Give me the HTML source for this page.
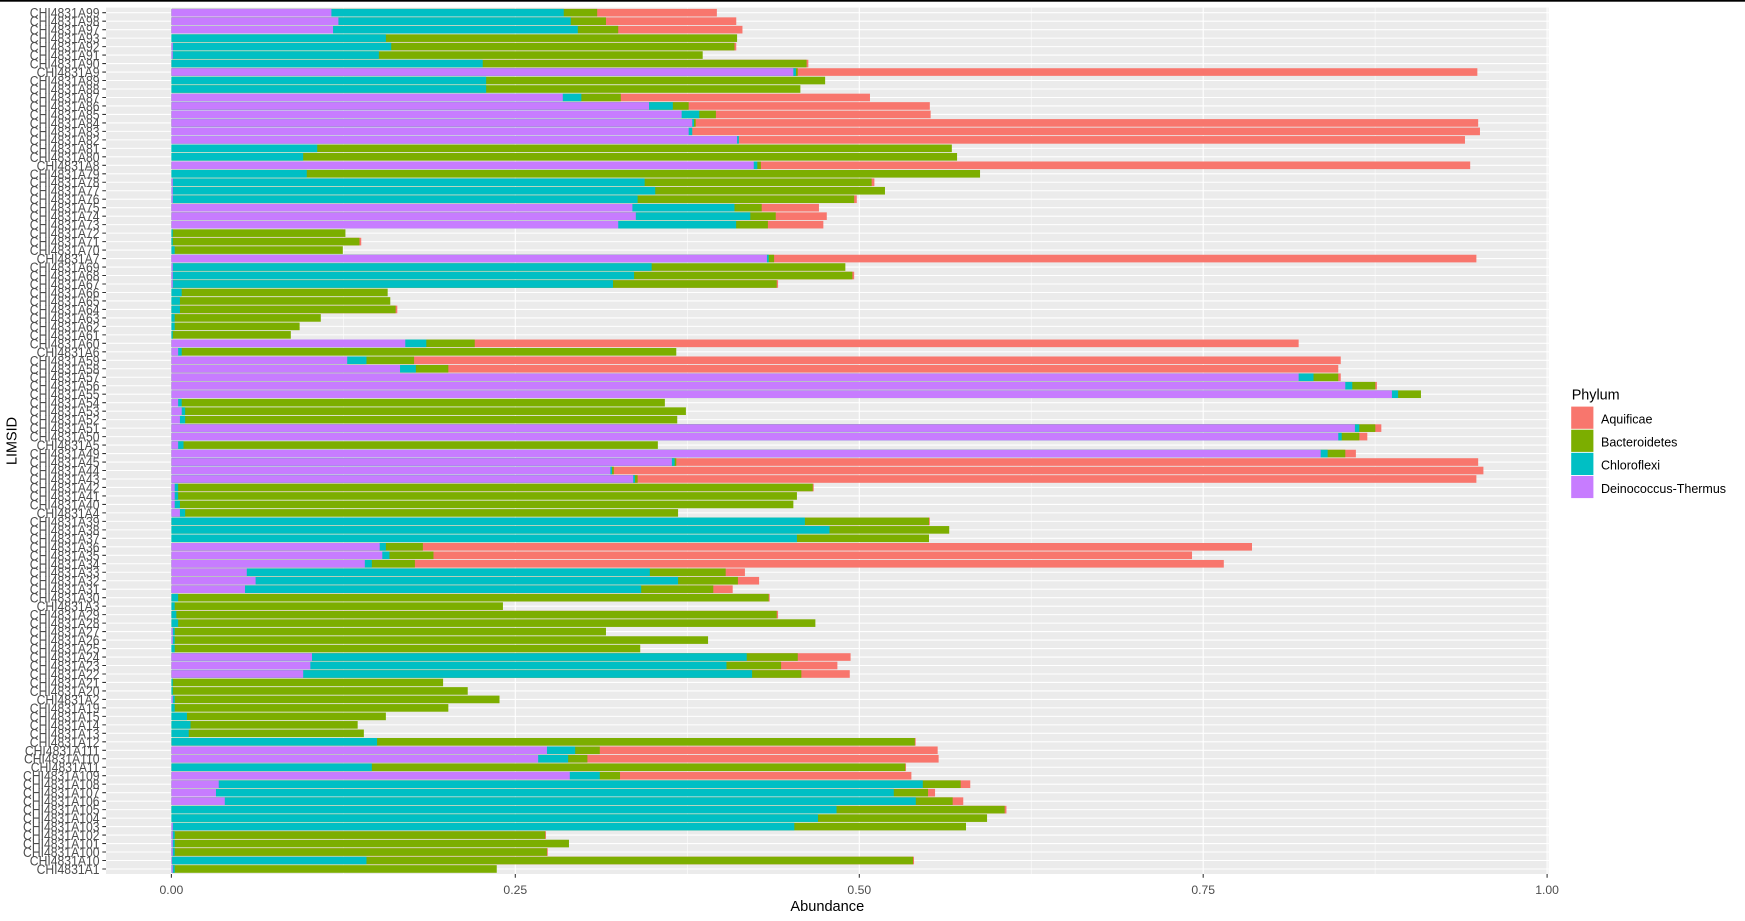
<!DOCTYPE html>
<html><head><meta charset="utf-8"><style>
body{margin:0;background:#fff}
svg{display:block}
.a{fill:#F8766D}.g{fill:#7CAE00}.c{fill:#00BFC4}.p{fill:#C77CFF}
</style></head><body>
<svg xmlns="http://www.w3.org/2000/svg" width="1745" height="921" viewBox="0 0 1745 921">
<rect width="1745" height="921" fill="#fff"/>
<rect x="0" y="0" width="1745" height="1.7" fill="#000"/>
<rect x="106" y="7.6" width="1442.5" height="866.4" fill="#EBEBEB"/>
<path d="M343.4 7.6V874M687.3 7.6V874M1031.2 7.6V874M1375.1 7.6V874" stroke="#fff" stroke-width="0.53"/>
<path d="M171.4 7.6V874M515.3 7.6V874M859.3 7.6V874M1203.2 7.6V874M1547.1 7.6V874" stroke="#fff" stroke-width="1.07"/>
<line x1="827.25" y1="12.165" x2="827.25" y2="874" stroke="#fff" stroke-width="1442.5" stroke-dasharray="1.07 7.408"/>
<svg x="171.4" y="8.461" width="1375.7" height="864.76" viewBox="0 0 1 102" preserveAspectRatio="none" overflow="visible">
<rect class="a" y="0.05" height=".9" width=".3965"/><rect class="g" y="0.05" height=".9" width=".3095"/><rect class="c" y="0.05" height=".9" width=".2852"/><rect class="p" y="0.05" height=".9" width=".1163"/>
<rect class="a" y="1.05" height=".9" width=".4106"/><rect class="g" y="1.05" height=".9" width=".3159"/><rect class="c" y="1.05" height=".9" width=".2903"/><rect class="p" y="1.05" height=".9" width=".1214"/>
<rect class="a" y="2.05" height=".9" width=".4151"/><rect class="g" y="2.05" height=".9" width=".3248"/><rect class="c" y="2.05" height=".9" width=".2954"/><rect class="p" y="2.05" height=".9" width=".1175"/>
<rect class="g" y="3.05" height=".9" width=".4112"/><rect class="c" y="3.05" height=".9" width=".1559"/>
<rect class="a" y="4.05" height=".9" width=".4106"/><rect class="g" y="4.05" height=".9" width=".4093"/><rect class="c" y="4.05" height=".9" width=".1598"/><rect class="p" y="4.05" height=".9" width=".001"/>
<rect class="g" y="5.05" height=".9" width=".3862"/><rect class="c" y="5.05" height=".9" width=".1508"/><rect class="p" y="5.05" height=".9" width=".001"/>
<rect class="a" y="6.05" height=".9" width=".4630"/><rect class="g" y="6.05" height=".9" width=".4617"/><rect class="c" y="6.05" height=".9" width=".2263"/>
<rect class="a" y="7.05" height=".9" width=".9493"/><rect class="g" y="7.05" height=".9" width=".4553"/><rect class="c" y="7.05" height=".9" width=".454"/><rect class="p" y="7.05" height=".9" width=".4521"/>
<rect class="g" y="8.05" height=".9" width=".4752"/><rect class="c" y="8.05" height=".9" width=".2288"/>
<rect class="g" y="9.05" height=".9" width=".4572"/><rect class="c" y="9.05" height=".9" width=".2288"/>
<rect class="a" y="10.05" height=".9" width=".5078"/><rect class="g" y="10.05" height=".9" width=".3267"/><rect class="c" y="10.05" height=".9" width=".298"/><rect class="p" y="10.05" height=".9" width=".2845"/>
<rect class="a" y="11.05" height=".9" width=".5513"/><rect class="g" y="11.05" height=".9" width=".376"/><rect class="c" y="11.05" height=".9" width=".3645"/><rect class="p" y="11.05" height=".9" width=".3472"/>
<rect class="a" y="12.05" height=".9" width=".5519"/><rect class="g" y="12.05" height=".9" width=".3958"/><rect class="c" y="12.05" height=".9" width=".3837"/><rect class="p" y="12.05" height=".9" width=".3709"/>
<rect class="a" y="13.05" height=".9" width=".9499"/><rect class="g" y="13.05" height=".9" width=".3811"/><rect class="c" y="13.05" height=".9" width=".3799"/><rect class="p" y="13.05" height=".9" width=".3786"/>
<rect class="a" y="14.05" height=".9" width=".9512"/><rect class="c" y="14.05" height=".9" width=".3786"/><rect class="p" y="14.05" height=".9" width=".3760"/>
<rect class="a" y="15.05" height=".9" width=".9403"/><rect class="c" y="15.05" height=".9" width=".4125"/><rect class="p" y="15.05" height=".9" width=".4112"/>
<rect class="g" y="16.05" height=".9" width=".5673"/><rect class="c" y="16.05" height=".9" width=".106"/>
<rect class="g" y="17.05" height=".9" width=".5711"/><rect class="c" y="17.05" height=".9" width=".0958"/>
<rect class="a" y="18.05" height=".9" width=".9441"/><rect class="g" y="18.05" height=".9" width=".4285"/><rect class="c" y="18.05" height=".9" width=".4259"/><rect class="p" y="18.05" height=".9" width=".4233"/>
<rect class="g" y="19.05" height=".9" width=".5878"/><rect class="c" y="19.05" height=".9" width=".0984"/>
<rect class="a" y="20.05" height=".9" width=".511"/><rect class="g" y="20.05" height=".9" width=".509"/><rect class="c" y="20.05" height=".9" width=".344"/><rect class="p" y="20.05" height=".9" width=".001"/>
<rect class="g" y="21.05" height=".9" width=".5187"/><rect class="c" y="21.05" height=".9" width=".3517"/><rect class="p" y="21.05" height=".9" width=".001"/>
<rect class="a" y="22.05" height=".9" width=".4982"/><rect class="g" y="22.05" height=".9" width=".4963"/><rect class="c" y="22.05" height=".9" width=".3389"/><rect class="p" y="22.05" height=".9" width=".001"/>
<rect class="a" y="23.05" height=".9" width=".4707"/><rect class="g" y="23.05" height=".9" width=".4291"/><rect class="c" y="23.05" height=".9" width=".4093"/><rect class="p" y="23.05" height=".9" width=".3351"/>
<rect class="a" y="24.05" height=".9" width=".4764"/><rect class="g" y="24.05" height=".9" width=".4393"/><rect class="c" y="24.05" height=".9" width=".4208"/><rect class="p" y="24.05" height=".9" width=".3376"/>
<rect class="a" y="25.05" height=".9" width=".4739"/><rect class="g" y="25.05" height=".9" width=".4336"/><rect class="c" y="25.05" height=".9" width=".4105"/><rect class="p" y="25.05" height=".9" width=".3248"/>
<rect class="g" y="26.05" height=".9" width=".1265"/><rect class="c" y="26.05" height=".9" width=".001"/>
<rect class="a" y="27.05" height=".9" width=".138"/><rect class="g" y="27.05" height=".9" width=".1367"/><rect class="c" y="27.05" height=".9" width=".001"/>
<rect class="g" y="28.05" height=".9" width=".1246"/><rect class="c" y="28.05" height=".9" width=".0024"/>
<rect class="a" y="29.05" height=".9" width=".9486"/><rect class="g" y="29.05" height=".9" width=".4381"/><rect class="c" y="29.05" height=".9" width=".4342"/><rect class="p" y="29.05" height=".9" width=".4329"/>
<rect class="g" y="30.05" height=".9" width=".4899"/><rect class="c" y="30.05" height=".9" width=".3491"/><rect class="p" y="30.05" height=".9" width=".001"/>
<rect class="a" y="31.05" height=".9" width=".4963"/><rect class="g" y="31.05" height=".9" width=".495"/><rect class="c" y="31.05" height=".9" width=".3363"/><rect class="p" y="31.05" height=".9" width=".001"/>
<rect class="a" y="32.05" height=".9" width=".441"/><rect class="g" y="32.05" height=".9" width=".44"/><rect class="c" y="32.05" height=".9" width=".321"/><rect class="p" y="32.05" height=".9" width=".001"/>
<rect class="g" y="33.05" height=".9" width=".1572"/><rect class="c" y="33.05" height=".9" width=".0075"/>
<rect class="g" y="34.05" height=".9" width=".1591"/><rect class="c" y="34.05" height=".9" width=".0062"/>
<rect class="a" y="35.05" height=".9" width=".1642"/><rect class="g" y="35.05" height=".9" width=".163"/><rect class="c" y="35.05" height=".9" width=".0062"/>
<rect class="g" y="36.05" height=".9" width=".1086"/><rect class="c" y="36.05" height=".9" width=".0024"/>
<rect class="g" y="37.05" height=".9" width=".0932"/><rect class="c" y="37.05" height=".9" width=".0024"/>
<rect class="g" y="38.05" height=".9" width=".0868"/><rect class="c" y="38.05" height=".9" width=".001"/>
<rect class="a" y="39.05" height=".9" width=".8194"/><rect class="g" y="39.05" height=".9" width=".2205"/><rect class="c" y="39.05" height=".9" width=".1853"/><rect class="p" y="39.05" height=".9" width=".17"/>
<rect class="g" y="40.05" height=".9" width=".367"/><rect class="c" y="40.05" height=".9" width=".0075"/><rect class="p" y="40.05" height=".9" width=".0049"/>
<rect class="a" y="41.05" height=".9" width=".85"/><rect class="g" y="41.05" height=".9" width=".1764"/><rect class="c" y="41.05" height=".9" width=".1418"/><rect class="p" y="41.05" height=".9" width=".1278"/>
<rect class="a" y="42.05" height=".9" width=".8482"/><rect class="g" y="42.05" height=".9" width=".2013"/><rect class="c" y="42.05" height=".9" width=".1777"/><rect class="p" y="42.05" height=".9" width=".1662"/>
<rect class="a" y="43.05" height=".9" width=".85"/><rect class="g" y="43.05" height=".9" width=".8482"/><rect class="c" y="43.05" height=".9" width=".8302"/><rect class="p" y="43.05" height=".9" width=".8194"/>
<rect class="a" y="44.05" height=".9" width=".8763"/><rect class="g" y="44.05" height=".9" width=".8751"/><rect class="c" y="44.05" height=".9" width=".8584"/><rect class="p" y="44.05" height=".9" width=".8533"/>
<rect class="g" y="45.05" height=".9" width=".9083"/><rect class="c" y="45.05" height=".9" width=".8917"/><rect class="p" y="45.05" height=".9" width=".8872"/>
<rect class="g" y="46.05" height=".9" width=".3587"/><rect class="c" y="46.05" height=".9" width=".0075"/><rect class="p" y="46.05" height=".9" width=".0049"/>
<rect class="g" y="47.05" height=".9" width=".374"/><rect class="c" y="47.05" height=".9" width=".01"/><rect class="p" y="47.05" height=".9" width=".0075"/>
<rect class="g" y="48.05" height=".9" width=".3677"/><rect class="c" y="48.05" height=".9" width=".01"/><rect class="p" y="48.05" height=".9" width=".0062"/>
<rect class="a" y="49.05" height=".9" width=".8795"/><rect class="g" y="49.05" height=".9" width=".8751"/><rect class="c" y="49.05" height=".9" width=".8635"/><rect class="p" y="49.05" height=".9" width=".8603"/>
<rect class="a" y="50.05" height=".9" width=".8693"/><rect class="g" y="50.05" height=".9" width=".8635"/><rect class="c" y="50.05" height=".9" width=".8507"/><rect class="p" y="50.05" height=".9" width=".8482"/>
<rect class="g" y="51.05" height=".9" width=".3536"/><rect class="c" y="51.05" height=".9" width=".0088"/><rect class="p" y="51.05" height=".9" width=".0049"/>
<rect class="a" y="52.05" height=".9" width=".861"/><rect class="g" y="52.05" height=".9" width=".8533"/><rect class="c" y="52.05" height=".9" width=".8405"/><rect class="p" y="52.05" height=".9" width=".8354"/>
<rect class="a" y="53.05" height=".9" width=".9499"/><rect class="g" y="53.05" height=".9" width=".367"/><rect class="c" y="53.05" height=".9" width=".3658"/><rect class="p" y="53.05" height=".9" width=".3638"/>
<rect class="a" y="54.05" height=".9" width=".9537"/><rect class="g" y="54.05" height=".9" width=".3216"/><rect class="c" y="54.05" height=".9" width=".3203"/><rect class="p" y="54.05" height=".9" width=".3191"/>
<rect class="a" y="55.05" height=".9" width=".9486"/><rect class="g" y="55.05" height=".9" width=".3389"/><rect class="c" y="55.05" height=".9" width=".337"/><rect class="p" y="55.05" height=".9" width=".3357"/>
<rect class="a" y="56.05" height=".9" width=".4669"/><rect class="g" y="56.05" height=".9" width=".4662"/><rect class="c" y="56.05" height=".9" width=".0049"/><rect class="p" y="56.05" height=".9" width=".0024"/>
<rect class="g" y="57.05" height=".9" width=".4547"/><rect class="c" y="57.05" height=".9" width=".0049"/><rect class="p" y="57.05" height=".9" width=".0024"/>
<rect class="g" y="58.05" height=".9" width=".4521"/><rect class="c" y="58.05" height=".9" width=".0062"/><rect class="p" y="58.05" height=".9" width=".0024"/>
<rect class="g" y="59.05" height=".9" width=".3683"/><rect class="c" y="59.05" height=".9" width=".01"/><rect class="p" y="59.05" height=".9" width=".0062"/>
<rect class="a" y="60.05" height=".9" width=".5513"/><rect class="g" y="60.05" height=".9" width=".5507"/><rect class="c" y="60.05" height=".9" width=".4605"/>
<rect class="g" y="61.05" height=".9" width=".5654"/><rect class="c" y="61.05" height=".9" width=".4784"/>
<rect class="g" y="62.05" height=".9" width=".5507"/><rect class="c" y="62.05" height=".9" width=".4547"/>
<rect class="a" y="63.05" height=".9" width=".7855"/><rect class="g" y="63.05" height=".9" width=".1828"/><rect class="c" y="63.05" height=".9" width=".1559"/><rect class="p" y="63.05" height=".9" width=".1514"/>
<rect class="a" y="64.05" height=".9" width=".7419"/><rect class="g" y="64.05" height=".9" width=".1905"/><rect class="c" y="64.05" height=".9" width=".1585"/><rect class="p" y="64.05" height=".9" width=".1533"/>
<rect class="a" y="65.05" height=".9" width=".765"/><rect class="g" y="65.05" height=".9" width=".177"/><rect class="c" y="65.05" height=".9" width=".1457"/><rect class="p" y="65.05" height=".9" width=".1406"/>
<rect class="a" y="66.05" height=".9" width=".4169"/><rect class="g" y="66.05" height=".9" width=".4029"/><rect class="c" y="66.05" height=".9" width=".3478"/><rect class="p" y="66.05" height=".9" width=".0548"/>
<rect class="a" y="67.05" height=".9" width=".4272"/><rect class="g" y="67.05" height=".9" width=".4118"/><rect class="c" y="67.05" height=".9" width=".3683"/><rect class="p" y="67.05" height=".9" width=".0612"/>
<rect class="a" y="68.05" height=".9" width=".408"/><rect class="g" y="68.05" height=".9" width=".3939"/><rect class="c" y="68.05" height=".9" width=".3415"/><rect class="p" y="68.05" height=".9" width=".0535"/>
<rect class="a" y="69.05" height=".9" width=".4349"/><rect class="g" y="69.05" height=".9" width=".4342"/><rect class="c" y="69.05" height=".9" width=".0049"/>
<rect class="g" y="70.05" height=".9" width=".241"/><rect class="c" y="70.05" height=".9" width=".0024"/>
<rect class="a" y="71.05" height=".9" width=".441"/><rect class="g" y="71.05" height=".9" width=".44"/><rect class="c" y="71.05" height=".9" width=".0036"/>
<rect class="g" y="72.05" height=".9" width=".4681"/><rect class="c" y="72.05" height=".9" width=".0049"/>
<rect class="g" y="73.05" height=".9" width=".3159"/><rect class="c" y="73.05" height=".9" width=".0024"/><rect class="p" y="73.05" height=".9" width=".001"/>
<rect class="g" y="74.05" height=".9" width=".3901"/><rect class="c" y="74.05" height=".9" width=".0024"/><rect class="p" y="74.05" height=".9" width=".001"/>
<rect class="g" y="75.05" height=".9" width=".3408"/><rect class="c" y="75.05" height=".9" width=".0024"/>
<rect class="a" y="76.05" height=".9" width=".4937"/><rect class="g" y="76.05" height=".9" width=".4553"/><rect class="c" y="76.05" height=".9" width=".4182"/><rect class="p" y="76.05" height=".9" width=".1022"/>
<rect class="a" y="77.05" height=".9" width=".4841"/><rect class="g" y="77.05" height=".9" width=".4432"/><rect class="c" y="77.05" height=".9" width=".4035"/><rect class="p" y="77.05" height=".9" width=".101"/>
<rect class="a" y="78.05" height=".9" width=".4931"/><rect class="g" y="78.05" height=".9" width=".4579"/><rect class="c" y="78.05" height=".9" width=".4221"/><rect class="p" y="78.05" height=".9" width=".0958"/>
<rect class="g" y="79.05" height=".9" width=".1975"/><rect class="c" y="79.05" height=".9" width=".001"/>
<rect class="g" y="80.05" height=".9" width=".2154"/><rect class="c" y="80.05" height=".9" width=".001"/>
<rect class="g" y="81.05" height=".9" width=".2385"/><rect class="c" y="81.05" height=".9" width=".0024"/><rect class="p" y="81.05" height=".9" width=".001"/>
<rect class="g" y="82.05" height=".9" width=".2013"/><rect class="c" y="82.05" height=".9" width=".0024"/>
<rect class="g" y="83.05" height=".9" width=".1559"/><rect class="c" y="83.05" height=".9" width=".0113"/>
<rect class="g" y="84.05" height=".9" width=".1354"/><rect class="c" y="84.05" height=".9" width=".0139"/>
<rect class="g" y="85.05" height=".9" width=".1399"/><rect class="c" y="85.05" height=".9" width=".0126"/>
<rect class="a" y="86.05" height=".9" width=".541"/><rect class="g" y="86.05" height=".9" width=".5404"/><rect class="c" y="86.05" height=".9" width=".1495"/>
<rect class="a" y="87.05" height=".9" width=".557"/><rect class="g" y="87.05" height=".9" width=".3114"/><rect class="c" y="87.05" height=".9" width=".2935"/><rect class="p" y="87.05" height=".9" width=".273"/>
<rect class="a" y="88.05" height=".9" width=".5577"/><rect class="g" y="88.05" height=".9" width=".3024"/><rect class="c" y="88.05" height=".9" width=".2884"/><rect class="p" y="88.05" height=".9" width=".2666"/>
<rect class="a" y="89.05" height=".9" width=".534"/><rect class="g" y="89.05" height=".9" width=".5334"/><rect class="c" y="89.05" height=".9" width=".1457"/>
<rect class="a" y="90.05" height=".9" width=".5379"/><rect class="g" y="90.05" height=".9" width=".3261"/><rect class="c" y="90.05" height=".9" width=".3114"/><rect class="p" y="90.05" height=".9" width=".2896"/>
<rect class="a" y="91.05" height=".9" width=".5807"/><rect class="g" y="91.05" height=".9" width=".5737"/><rect class="c" y="91.05" height=".9" width=".5462"/><rect class="p" y="91.05" height=".9" width=".0344"/>
<rect class="a" y="92.05" height=".9" width=".5551"/><rect class="g" y="92.05" height=".9" width=".55"/><rect class="c" y="92.05" height=".9" width=".5251"/><rect class="p" y="92.05" height=".9" width=".0324"/>
<rect class="a" y="93.05" height=".9" width=".5756"/><rect class="g" y="93.05" height=".9" width=".5679"/><rect class="c" y="93.05" height=".9" width=".5411"/><rect class="p" y="93.05" height=".9" width=".0388"/>
<rect class="a" y="94.05" height=".9" width=".607"/><rect class="g" y="94.05" height=".9" width=".6057"/><rect class="c" y="94.05" height=".9" width=".4835"/>
<rect class="g" y="95.05" height=".9" width=".5929"/><rect class="c" y="95.05" height=".9" width=".47"/>
<rect class="g" y="96.05" height=".9" width=".5776"/><rect class="c" y="96.05" height=".9" width=".4528"/><rect class="p" y="96.05" height=".9" width=".001"/>
<rect class="a" y="97.05" height=".9" width=".2723"/><rect class="g" y="97.05" height=".9" width=".2717"/><rect class="c" y="97.05" height=".9" width=".0024"/><rect class="p" y="97.05" height=".9" width=".001"/>
<rect class="g" y="98.05" height=".9" width=".289"/><rect class="c" y="98.05" height=".9" width=".0024"/><rect class="p" y="98.05" height=".9" width=".001"/>
<rect class="a" y="99.05" height=".9" width=".2736"/><rect class="g" y="99.05" height=".9" width=".273"/><rect class="c" y="99.05" height=".9" width=".0024"/><rect class="p" y="99.05" height=".9" width=".001"/>
<rect class="a" y="100.05" height=".9" width=".5398"/><rect class="g" y="100.05" height=".9" width=".5391"/><rect class="c" y="100.05" height=".9" width=".1418"/><rect class="p" y="100.05" height=".9" width=".0005"/>
<rect class="g" y="101.05" height=".9" width=".2365"/><rect class="c" y="101.05" height=".9" width=".0024"/><rect class="p" y="101.05" height=".9" width=".001"/>
</svg>
<line x1="104.15" y1="12.165" x2="104.15" y2="874" stroke="#333" stroke-width="3.7" stroke-dasharray="1.07 7.408"/>
<path d="M171.4 874V877.7M515.3 874V877.7M859.3 874V877.7M1203.2 874V877.7M1547.1 874V877.7" stroke="#333" stroke-width="1.07"/>
<g font-family="Liberation Sans, Arial, sans-serif" font-size="14" fill="#4D4D4D" text-anchor="end" transform="translate(99.5,0.7) scale(0.87,1)">
<text y="17.00">CHI4831A99</text>
<text y="25.48">CHI4831A98</text>
<text y="33.96">CHI4831A97</text>
<text y="42.43">CHI4831A93</text>
<text y="50.91">CHI4831A92</text>
<text y="59.39">CHI4831A91</text>
<text y="67.87">CHI4831A90</text>
<text y="76.35">CHI4831A9</text>
<text y="84.82">CHI4831A89</text>
<text y="93.30">CHI4831A88</text>
<text y="101.78">CHI4831A87</text>
<text y="110.26">CHI4831A86</text>
<text y="118.74">CHI4831A85</text>
<text y="127.21">CHI4831A84</text>
<text y="135.69">CHI4831A83</text>
<text y="144.17">CHI4831A82</text>
<text y="152.65">CHI4831A81</text>
<text y="161.13">CHI4831A80</text>
<text y="169.60">CHI4831A8</text>
<text y="178.08">CHI4831A79</text>
<text y="186.56">CHI4831A78</text>
<text y="195.04">CHI4831A77</text>
<text y="203.52">CHI4831A76</text>
<text y="211.99">CHI4831A75</text>
<text y="220.47">CHI4831A74</text>
<text y="228.95">CHI4831A73</text>
<text y="237.43">CHI4831A72</text>
<text y="245.91">CHI4831A71</text>
<text y="254.38">CHI4831A70</text>
<text y="262.86">CHI4831A7</text>
<text y="271.34">CHI4831A69</text>
<text y="279.82">CHI4831A68</text>
<text y="288.30">CHI4831A67</text>
<text y="296.77">CHI4831A66</text>
<text y="305.25">CHI4831A65</text>
<text y="313.73">CHI4831A64</text>
<text y="322.21">CHI4831A63</text>
<text y="330.69">CHI4831A62</text>
<text y="339.16">CHI4831A61</text>
<text y="347.64">CHI4831A60</text>
<text y="356.12">CHI4831A6</text>
<text y="364.60">CHI4831A59</text>
<text y="373.08">CHI4831A58</text>
<text y="381.55">CHI4831A57</text>
<text y="390.03">CHI4831A56</text>
<text y="398.51">CHI4831A55</text>
<text y="406.99">CHI4831A54</text>
<text y="415.47">CHI4831A53</text>
<text y="423.94">CHI4831A52</text>
<text y="432.42">CHI4831A51</text>
<text y="440.90">CHI4831A50</text>
<text y="449.38">CHI4831A5</text>
<text y="457.86">CHI4831A49</text>
<text y="466.33">CHI4831A45</text>
<text y="474.81">CHI4831A44</text>
<text y="483.29">CHI4831A43</text>
<text y="491.77">CHI4831A42</text>
<text y="500.25">CHI4831A41</text>
<text y="508.72">CHI4831A40</text>
<text y="517.20">CHI4831A4</text>
<text y="525.68">CHI4831A39</text>
<text y="534.16">CHI4831A38</text>
<text y="542.64">CHI4831A37</text>
<text y="551.11">CHI4831A36</text>
<text y="559.59">CHI4831A35</text>
<text y="568.07">CHI4831A34</text>
<text y="576.55">CHI4831A33</text>
<text y="585.03">CHI4831A32</text>
<text y="593.50">CHI4831A31</text>
<text y="601.98">CHI4831A30</text>
<text y="610.46">CHI4831A3</text>
<text y="618.94">CHI4831A29</text>
<text y="627.42">CHI4831A28</text>
<text y="635.89">CHI4831A27</text>
<text y="644.37">CHI4831A26</text>
<text y="652.85">CHI4831A25</text>
<text y="661.33">CHI4831A24</text>
<text y="669.81">CHI4831A23</text>
<text y="678.28">CHI4831A22</text>
<text y="686.76">CHI4831A21</text>
<text y="695.24">CHI4831A20</text>
<text y="703.72">CHI4831A2</text>
<text y="712.20">CHI4831A19</text>
<text y="720.67">CHI4831A15</text>
<text y="729.15">CHI4831A14</text>
<text y="737.63">CHI4831A13</text>
<text y="746.11">CHI4831A12</text>
<text y="754.59">CHI4831A111</text>
<text y="763.06">CHI4831A110</text>
<text y="771.54">CHI4831A11</text>
<text y="780.02">CHI4831A109</text>
<text y="788.50">CHI4831A108</text>
<text y="796.98">CHI4831A107</text>
<text y="805.45">CHI4831A106</text>
<text y="813.93">CHI4831A105</text>
<text y="822.41">CHI4831A104</text>
<text y="830.89">CHI4831A103</text>
<text y="839.37">CHI4831A102</text>
<text y="847.84">CHI4831A101</text>
<text y="856.32">CHI4831A100</text>
<text y="864.80">CHI4831A10</text>
<text y="873.28">CHI4831A1</text>
</g>
<g font-family="Liberation Sans, Arial, sans-serif" font-size="12.2" fill="#4D4D4D" text-anchor="middle">
<text x="171.4" y="894">0.00</text>
<text x="515.3" y="894">0.25</text>
<text x="859.3" y="894">0.50</text>
<text x="1203.2" y="894">0.75</text>
<text x="1547.1" y="894">1.00</text>
</g>
<text x="827.3" y="911" font-family="Liberation Sans, Arial, sans-serif" font-size="14.6" fill="#000" text-anchor="middle">Abundance</text>
<text transform="translate(16.7,441) rotate(-90)" font-family="Liberation Sans, Arial, sans-serif" font-size="14.4" fill="#000" text-anchor="middle">LIMSID</text>
<g font-family="Liberation Sans, Arial, sans-serif" fill="#000">
<text x="1571.7" y="399.3" font-size="14.4">Phylum</text>
<rect x="1571.2" y="406.6" width="22.2" height="22.2" fill="#F8766D"/>
<rect x="1571.2" y="429.7" width="22.2" height="22.2" fill="#7CAE00"/>
<rect x="1571.2" y="452.8" width="22.2" height="22.2" fill="#00BFC4"/>
<rect x="1571.2" y="475.9" width="22.2" height="22.2" fill="#C77CFF"/>
<text x="1601" y="423.5" font-size="12.5">Aquificae</text>
<text x="1601" y="446.6" font-size="12.5">Bacteroidetes</text>
<text x="1601" y="469.7" font-size="12.5">Chloroflexi</text>
<text x="1601" y="492.8" font-size="12.5">Deinococcus-Thermus</text>
</g>
</svg>
</body></html>
